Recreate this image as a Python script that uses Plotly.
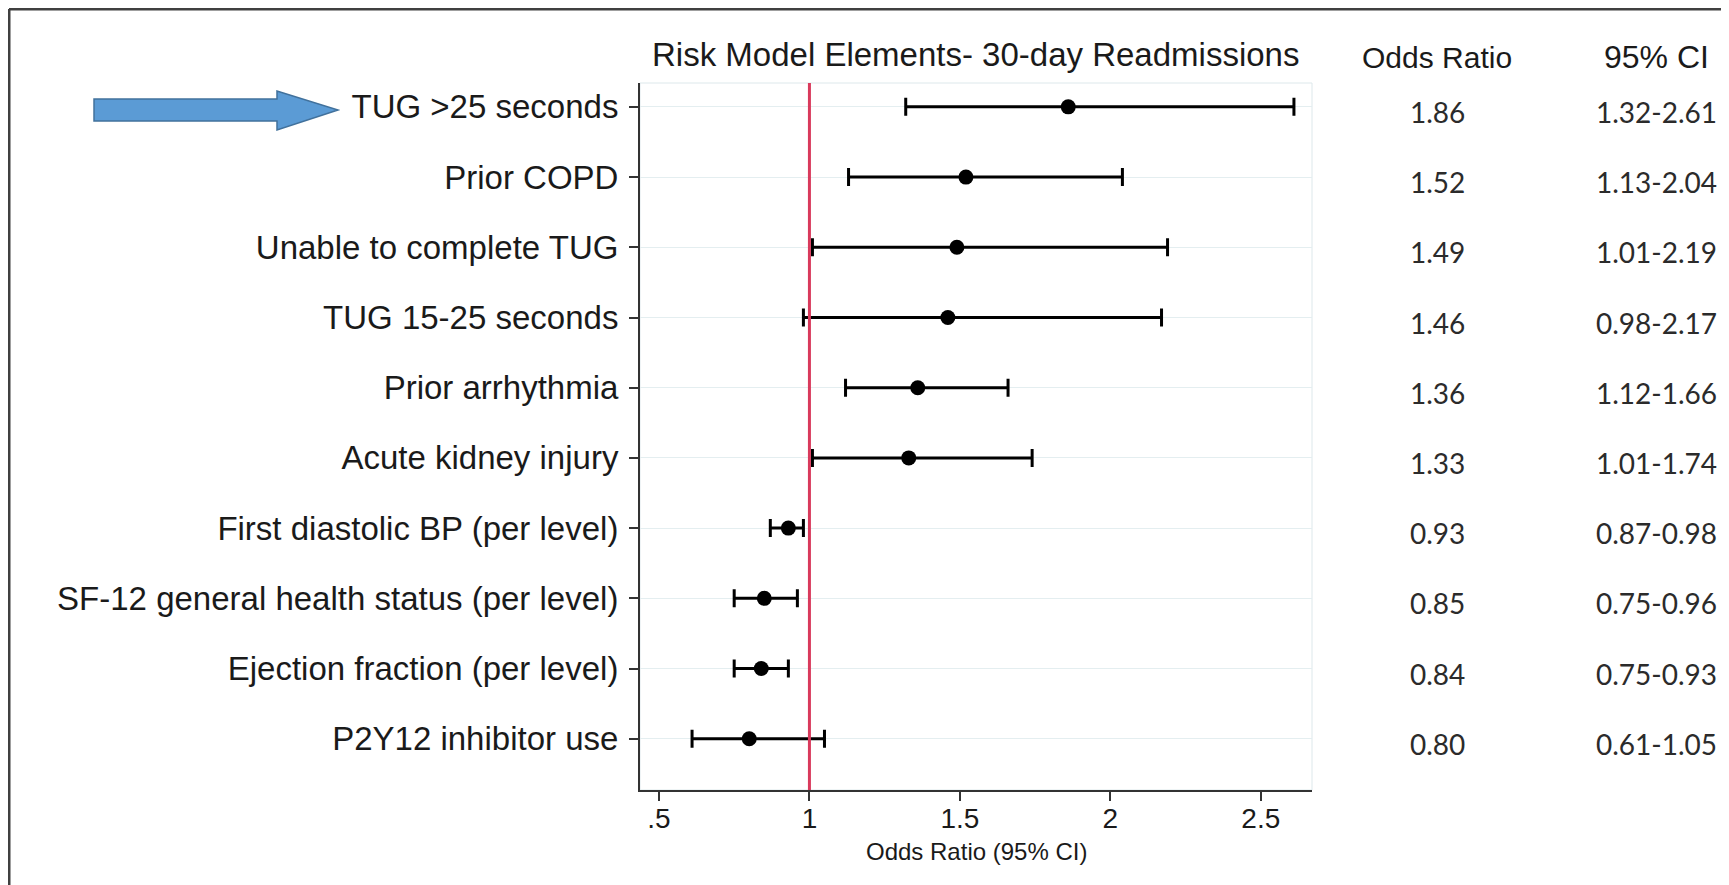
import plotly.graph_objects as go

# ---- data ----
labels = ["TUG >25 seconds", "Prior COPD", "Unable to complete TUG", "TUG 15-25 seconds",
          "Prior arrhythmia", "Acute kidney injury", "First diastolic BP (per level)",
          "SF-12 general health status (per level)", "Ejection fraction (per level)",
          "P2Y12 inhibitor use"]
odds_ratio = [1.86, 1.52, 1.49, 1.46, 1.36, 1.33, 0.93, 0.85, 0.84, 0.80]
ci_low = [1.32, 1.13, 1.01, 0.98, 1.12, 1.01, 0.87, 0.75, 0.75, 0.61]
ci_high = [2.61, 2.04, 2.19, 2.17, 1.66, 1.74, 0.98, 0.96, 0.93, 1.05]
x_tickvals = [0.5, 1, 1.5, 2, 2.5]
x_ticktext = [".5", "1", "1.5", "2", "2.5"]

title_text = "Risk Model Elements- 30-day Readmissions"
x_title = "Odds Ratio (95% CI)"
col_headers = ["Odds Ratio", "95% CI"]

# ---- layout geometry (figure pixels; the page adds an 8px body margin) ----
W, H = 1721, 877
L, R, T, B = 632, 1304, 75, 782
OR_COL_X, CI_COL_X = 1429, 1648


def px(x):
    return (x - L) / (R - L)


def py(y):
    return (B - y) / (B - T)


LABEL_FONT = "Liberation Sans, Arial, sans-serif"
VALUE_FONT = "Lato, Open Sans, sans-serif"
INK = "#1a1a1a"

err_plus = [h - o for h, o in zip(ci_high, odds_ratio)]
err_minus = [o - l for o, l in zip(odds_ratio, ci_low)]

fig = go.Figure()
fig.add_trace(go.Scatter(
    x=odds_ratio, y=labels, mode="markers",
    marker=dict(color="black", size=15),
    error_x=dict(type="data", symmetric=False, array=err_plus, arrayminus=err_minus,
                 color="black", thickness=3, width=9),
    showlegend=False, hoverinfo="skip", cliponaxis=False,
))

annotations = []
annotations.append(dict(text=title_text, x=px(967), y=py(47), xref="paper", yref="paper",
                        showarrow=False, xanchor="center", yanchor="middle",
                        font=dict(family=LABEL_FONT, size=33, color=INK)))
annotations.append(dict(text=x_title, x=px(968), y=py(843), xref="paper", yref="paper",
                        showarrow=False, xanchor="center", yanchor="middle",
                        font=dict(family=LABEL_FONT, size=24, color=INK)))
for hx, htxt, hs in zip([OR_COL_X, CI_COL_X], col_headers, [30, 32]):
    annotations.append(dict(text=htxt, x=px(hx), y=py(49), xref="paper", yref="paper",
                            showarrow=False, xanchor="center", yanchor="middle",
                            font=dict(family=LABEL_FONT, size=hs, color=INK)))
for lab, o, lo, hi in zip(labels, odds_ratio, ci_low, ci_high):
    annotations.append(dict(text=f"{o:.2f}", x=px(OR_COL_X), y=lab, xref="paper", yref="y",
                            showarrow=False, xanchor="center", yanchor="middle", yshift=-5,
                            font=dict(family=VALUE_FONT, size=28, color="#2b2b2b")))
    annotations.append(dict(text=f"{lo:.2f}-{hi:.2f}", x=px(CI_COL_X), y=lab, xref="paper", yref="y",
                            showarrow=False, xanchor="center", yanchor="middle", yshift=-5,
                            font=dict(family=VALUE_FONT, size=28, color="#2b2b2b")))

shapes = []
# faint plot region border
shapes.append(dict(type="rect", xref="paper", yref="paper", x0=0, x1=1, y0=0, y1=1,
                   line=dict(color="#dde8eb", width=1), layer="below"))
# reference line at OR = 1
shapes.append(dict(type="line", xref="x", yref="paper", x0=1, x1=1, y0=0, y1=1,
                   line=dict(color="#d93a5c", width=3), layer="above"))
# outer frame (top and left edges)
shapes.append(dict(type="line", xref="paper", yref="paper", x0=px(1), x1=px(1760),
                   y0=py(1), y1=py(1), line=dict(color="#404040", width=3)))
shapes.append(dict(type="line", xref="paper", yref="paper", x0=px(1), x1=px(1),
                   y0=py(1), y1=py(900), line=dict(color="#404040", width=3)))
# block arrow pointing at the first row
ax = [86, 269, 269, 330, 269, 269, 86]
ay = [91, 91, 83, 102, 122, 113, 113]
path = "M " + " L ".join(f"{px(a):.5f},{py(b):.5f}" for a, b in zip(ax, ay)) + " Z"
shapes.append(dict(type="path", xref="paper", yref="paper", path=path,
                   fillcolor="#5b9bd5", line=dict(color="#41719c", width=1.5)))

n = len(labels)
fig.update_layout(
    width=W, height=H,
    margin=dict(l=L, r=W - R, t=T, b=H - B, pad=0),
    paper_bgcolor="white", plot_bgcolor="white",
    showlegend=False,
    annotations=annotations, shapes=shapes,
    xaxis=dict(range=[0.437, 2.67], tickvals=x_tickvals, ticktext=x_ticktext,
               showgrid=False, zeroline=False, showline=True, linecolor="#333333",
               linewidth=2, ticks="outside", ticklen=9, tickwidth=2, tickcolor="#333333",
               ticklabelstandoff=-7,
               tickfont=dict(family=LABEL_FONT, size=28, color=INK)),
    yaxis=dict(type="category", categoryorder="array", categoryarray=labels,
               range=[n - 1 + 0.73, -0.34],
               showgrid=True, gridcolor="#e4eef0", gridwidth=1, zeroline=False,
               showline=True, linecolor="#333333", linewidth=2,
               ticks="outside", ticklen=9, tickwidth=2, tickcolor="#333333",
               ticklabelstandoff=4,
               tickfont=dict(family=LABEL_FONT, size=33, color=INK)),
)

fig.write_html("out.html")
